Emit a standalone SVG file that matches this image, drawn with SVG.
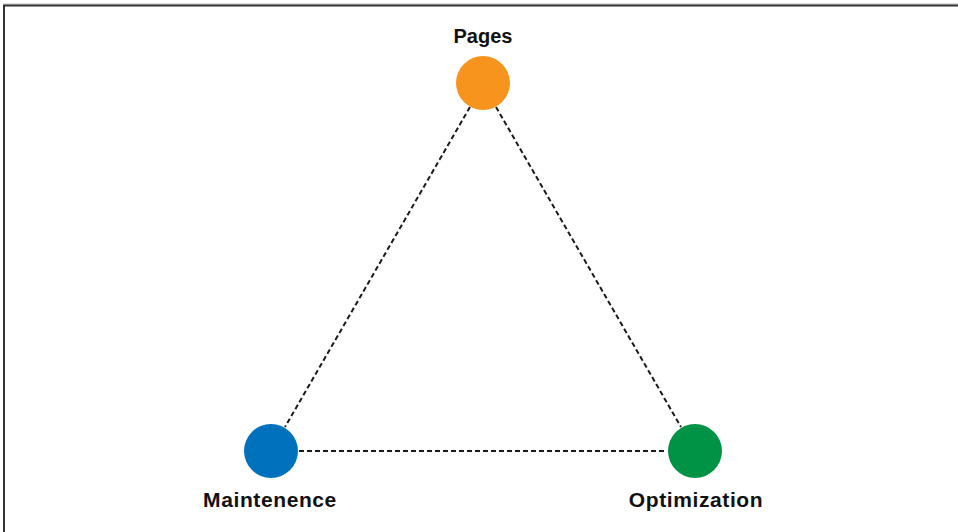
<svg xmlns="http://www.w3.org/2000/svg" width="958" height="532" viewBox="0 0 958 532">
<style>
.lbl{font-family:"Liberation Sans",Arial,sans-serif;font-weight:bold;font-size:20px;fill:#111;text-anchor:middle}
.conn{stroke:#1a1a1a;stroke-width:2;stroke-dasharray:5 3;fill:none}
</style>
<rect width="958" height="532" fill="#fff"/>
<line x1="3" y1="4" x2="958" y2="4" stroke="#bbb" stroke-width="1"/>
<path d="M4,532 V5.5 H958" fill="none" stroke="#333" stroke-width="2"/>
<g id="connectors">
<line class="conn" x1="470" y1="107" x2="285" y2="427"/>
<line class="conn" x1="496" y1="107" x2="681" y2="427"/>
<line class="conn" x1="299" y1="451" x2="667" y2="451"/>
</g>
<g id="pages">
<circle cx="483" cy="83" r="27" fill="#F7941D"/>
<text class="lbl" x="483" y="43">Pages</text>
</g>
<g id="maintenence">
<circle cx="271" cy="451" r="27" fill="#0071BC"/>
<text class="lbl" x="270" y="507" style="font-size:21px;letter-spacing:0.6px">Maintenence</text>
</g>
<g id="optimization">
<circle cx="695" cy="451" r="27" fill="#009245"/>
<text class="lbl" x="696" y="507" style="font-size:21px;letter-spacing:0.6px">Optimization</text>
</g>
</svg>
